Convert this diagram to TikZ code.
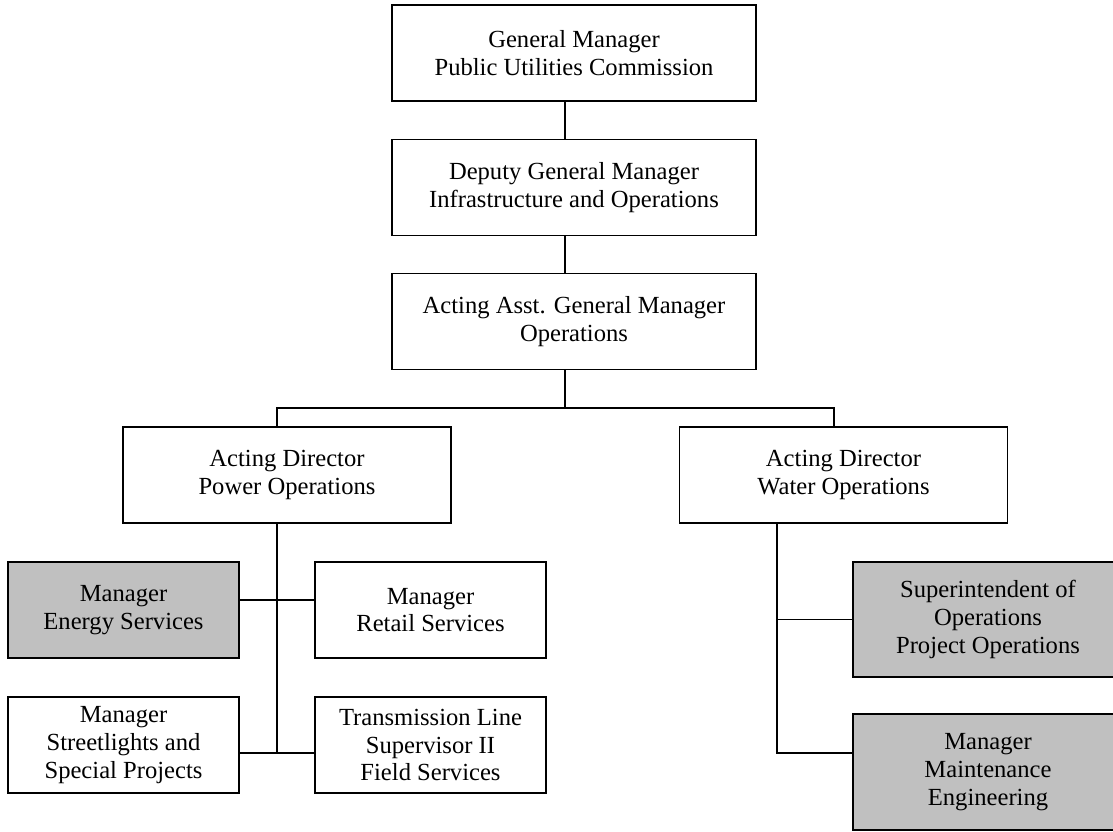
\documentclass[tikz,border=0pt]{standalone}
\usepackage{fontspec}
\setmainfont{Liberation Serif}
\usetikzlibrary{positioning,calc}
\definecolor{boxgray}{RGB}{192,192,192}

\begin{document}
\begin{tikzpicture}
    \tikzstyle{post}=[draw, line width=0.8pt, align=center, inner sep=0pt, font=\fontsize{14}{15.8}\selectfont]
    \tikzstyle{headbox}=[post, minimum width=7.28cm, minimum height=1.92cm]
    \tikzstyle{dirbox}=[post, minimum width=6.56cm, minimum height=1.92cm]
    \tikzstyle{mgrbox}=[post, minimum width=4.62cm, minimum height=1.92cm]
    \tikzstyle{widebox}=[post, fill=boxgray, minimum width=5.4cm, minimum height=2.3cm]
    \tikzstyle{link}=[line width=0.6pt]

    \useasboundingbox (0,0) rectangle (22.26,16.64);

    % top of the chart
    \node[headbox] (gm)  at (11.48,15.58) {General Manager\\Public Utilities Commission};
    \node[headbox] (dgm) at (11.48,12.89) {Deputy General Manager\\Infrastructure and Operations};
    \node[headbox] (agm) at (11.48,10.21) {Acting Asst. General Manager\\Operations};

    % directors
    \node[dirbox] (pow) at (5.74,7.14)  {Acting Director\\Power Operations};
    \node[dirbox] (wat) at (16.87,7.14) {Acting Director\\Water Operations};

    % power side
    \node[mgrbox, fill=boxgray] (nrg) at (2.47,4.44) {Manager\\Energy Services};
    \node[mgrbox] (ret) at (8.61,4.44) {Manager\\Retail Services};
    \node[mgrbox] (lit) at (2.47,1.74) {Manager\\Streetlights and\\Special Projects};
    \node[mgrbox] (trl) at (8.61,1.74) {Transmission Line\\Supervisor II\\Field Services};

    % water side
    \node[widebox] (sup) at (19.76,4.25) {Superintendent of\\Operations\\Project Operations};
    \node[widebox, minimum height=2.32cm] (mnt) at (19.76,1.2) {Manager\\Maintenance\\Engineering};

    \coordinate (bus) at (0,8.48);
    \coordinate (pj1) at (0,4.64);
    \coordinate (pj2) at (0,1.58);

    \draw[link] ([xshift=-0.18cm]gm.south) -- ([xshift=-0.18cm]dgm.north);
    \draw[link] ([xshift=-0.18cm]dgm.south) -- ([xshift=-0.18cm]agm.north);
    \draw[link] ([xshift=-0.18cm]agm.south) -- ([xshift=-0.18cm]agm.south |- bus);
    \draw[link] ([xshift=-0.2cm]pow.north) -- ([xshift=-0.2cm]pow.north |- bus) -| ([xshift=-0.19cm]wat.north);
    \draw[link] ([xshift=-0.2cm]pow.south) -- ([xshift=-0.2cm]pow.south |- pj2);
    \draw[link] (nrg.east |- pj1) -- (ret.west |- pj1);
    \draw[link] (lit.east |- pj2) -- (trl.west |- pj2);
    \draw[link] ([xshift=-1.33cm]wat.south) |- (sup.west);
    \draw[link] ([xshift=-1.33cm]wat.south) |- (mnt.west |- pj2);
\end{tikzpicture}
\end{document}
